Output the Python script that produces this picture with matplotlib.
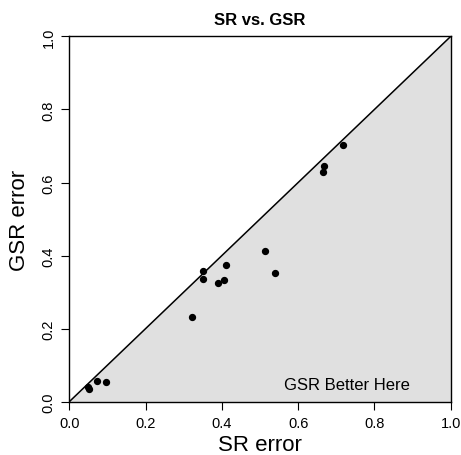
import matplotlib
matplotlib.use("Agg")
import matplotlib.pyplot as plt

# SR error vs GSR error
sr_err = [0.050, 0.051, 0.073, 0.097, 0.322, 0.350, 0.350, 0.390, 0.406, 0.411,
          0.514, 0.540, 0.665, 0.669, 0.718]
gsr_err = [0.041, 0.035, 0.057, 0.054, 0.233, 0.357, 0.335, 0.325, 0.333, 0.373,
           0.413, 0.353, 0.630, 0.646, 0.702]
ticks = [0.0, 0.2, 0.4, 0.6, 0.8, 1.0]

plt.rcParams['font.family'] = ['Liberation Sans', 'DejaVu Sans']

fig = plt.figure(figsize=(4.61, 4.56), dpi=100)
ax = fig.add_axes([0.1503, 0.1169, 0.8274, 0.8011])

# shaded region under the diagonal
ax.fill([0, 1, 1], [0, 0, 1], color="#e0e0e0", lw=0, zorder=0)
ax.plot([0, 1], [0, 1], color="black", lw=1.1, zorder=1)
ax.scatter(sr_err, gsr_err, s=18, color="black", zorder=2)

ax.text(0.728, 0.047, "GSR Better Here", fontsize=12, ha="center", va="center")

ax.set_xlim(0, 1)
ax.set_ylim(0, 1)
ax.set_xticks(ticks)
ax.set_yticks(ticks)
ax.set_xticklabels([f"{t:.1f}" for t in ticks])
ax.set_yticklabels([f"{t:.1f}" for t in ticks], rotation=90, va="center")
ax.tick_params(direction="out", length=6, width=0.8, labelsize=10.5, pad=4)
for s in ax.spines.values():
    s.set_linewidth(1.0)

ax.set_title("SR vs. GSR", fontsize=12, fontweight="bold", pad=9)
ax.set_xlabel("SR error", fontsize=16, labelpad=3)
ax.set_ylabel("GSR error", fontsize=16, labelpad=8)

fig.savefig("out.png", dpi=100)
